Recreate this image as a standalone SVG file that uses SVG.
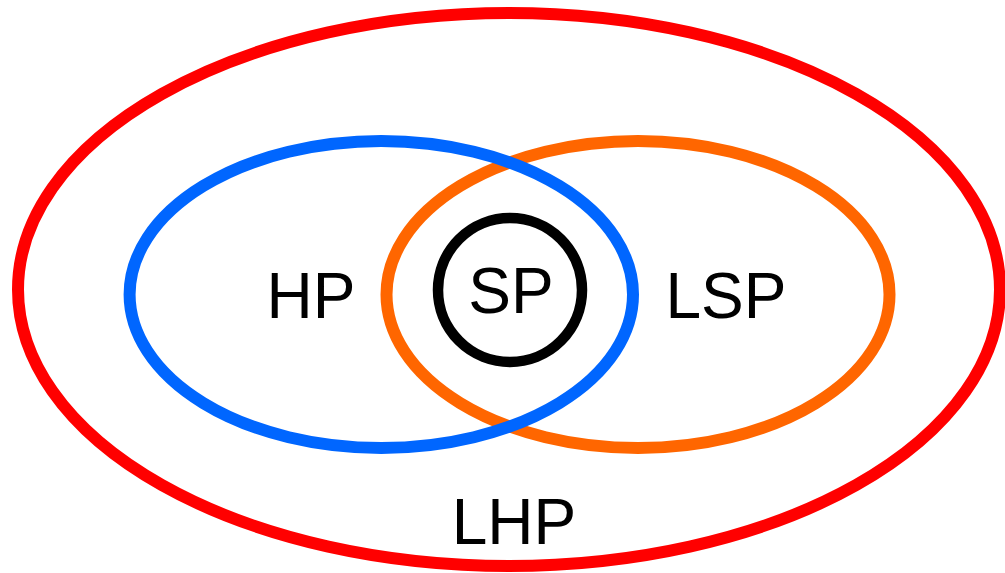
<svg xmlns="http://www.w3.org/2000/svg" width="1005" height="573" viewBox="0 0 1005 573">
<style>
.ring{fill:none;stroke-width:12}
.lbl{font-family:"Liberation Sans",Arial,sans-serif;font-size:64px;fill:#000;text-anchor:middle}
</style>
<rect width="1005" height="573" fill="#fff"/>
<g id="LHP">
<ellipse class="ring" cx="509" cy="289.5" rx="491" ry="276.5" stroke="#ff0000"/>
<text class="lbl" x="514" y="544">LHP</text>
</g>
<g id="LSP">
<ellipse class="ring" cx="638" cy="294.5" rx="251.5" ry="153.5" stroke="#ff6600"/>
<text class="lbl" x="726" y="318">LSP</text>
</g>
<g id="HP">
<ellipse class="ring" cx="381.3" cy="294.5" rx="251.7" ry="153.5" stroke="#0066ff"/>
<text class="lbl" x="311" y="318">HP</text>
</g>
<g id="SP">
<circle cx="510" cy="290" r="72" fill="none" stroke="#000" stroke-width="10.5"/>
<text class="lbl" x="511" y="313">SP</text>
</g>
<g id="connectors"/>
</svg>
